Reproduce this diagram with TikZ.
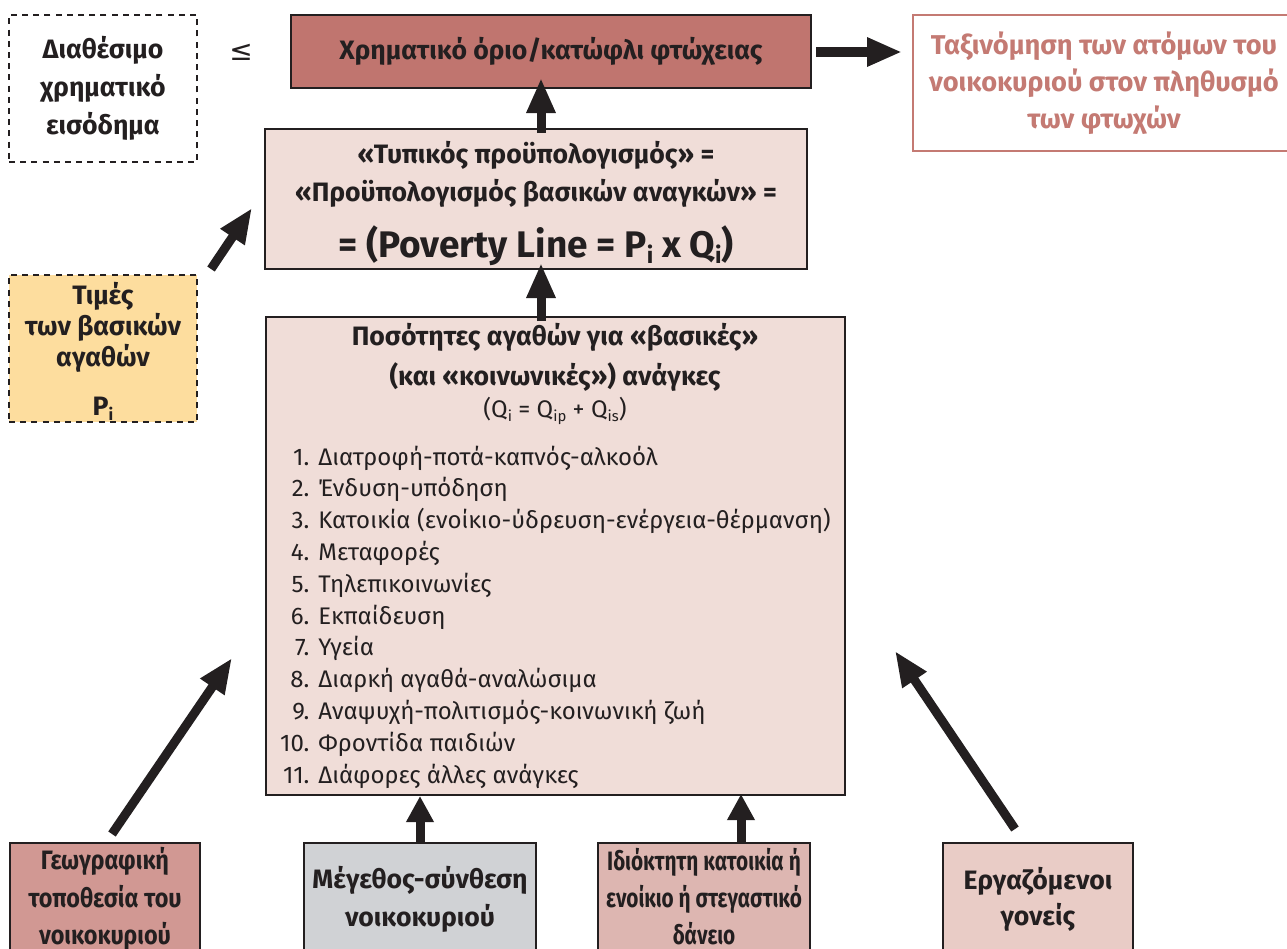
\documentclass[tikz,border=0pt]{standalone}
\usepackage{fontspec}
\setmainfont{Fira Sans}
\newfontfamily\symfont{DejaVu Sans}
\newfontfamily\condA[FakeStretch=0.88]{Fira Sans}
\newfontfamily\condB[FakeStretch=0.78]{Fira Sans}
\usetikzlibrary{arrows.meta,calc}
\definecolor{dark}{HTML}{231F20}
\definecolor{povc}{HTML}{C0756F}
\definecolor{clsc}{HTML}{C47A73}
\definecolor{budc}{HTML}{F0DDD8}
\definecolor{pric}{HTML}{FDDD9E}
\definecolor{geoc}{HTML}{D19893}
\definecolor{sizec}{HTML}{D0D2D5}
\definecolor{ownc}{HTML}{DDB6B1}
\definecolor{workc}{HTML}{E9CCC6}
\newcommand{\lowidx}[1]{\raisebox{-0.35ex}{\scalebox{0.62}{#1}}}
\newcommand{\numit}[1]{\makebox[17pt][r]{#1}\hspace{4.5pt}}
\begin{document}
\begin{tikzpicture}[x=0.5pt,y=-0.5pt,
  box/.style={draw=dark,line width=1pt,rectangle,inner sep=0pt,align=center,
    font=\bfseries\fontsize{13.3}{19}\selectfont,text=dark},
  dbox/.style={box,dash pattern=on 3pt off 2.6pt},
  arr/.style={draw=dark,line width=4.5pt,-{Triangle[width=13.5pt,length=17.5pt]}},
  sarr/.style={draw=dark,line width=4.5pt,-{Triangle[width=13pt,length=13pt]}},
]
\clip (0,0) rectangle (1287,949);
\fill[white] (0,0) rectangle (1287,949);

\node[dbox,minimum width=94pt,minimum height=73.5pt] (inc) at (103,88.5) {Διαθέσιμο\\χρηματικό\\εισόδημα};
\node[font=\symfont\fontsize{14}{14}\selectfont,text=dark,inner sep=0pt] (le) at (241,52) {≤};
\node[box,fill=povc,minimum width=260pt,minimum height=36.5pt] (pov) at (551,51.5) {Χρηματικό όριο/κατώφλι φτώχειας};
\node[box,draw=clsc,text=clsc,font=\bfseries\fontsize{13.6}{18.5}\selectfont,minimum width=191pt,minimum height=68pt] (cls) at (1104,83) {Ταξινόμηση των ατόμων του\\νοικοκυριού στον πληθυσμό\\των φτωχών};

\node[box,fill=budc,minimum width=271pt,minimum height=70pt] (bud) at (536,199) {};
\node[align=center,text=dark,inner sep=0pt,font=\bfseries\fontsize{13.3}{19}\selectfont] (budt) at (536,203)
  {«Τυπικός προϋπολογισμός» =\\«Προϋπολογισμός βασικών αναγκών» =\\[9pt]{\fontsize{18.5}{20}\selectfont = (Poverty Line = P\lowidx{i} x Q\lowidx{i})}};

\node[dbox,fill=pric,font=\bfseries\fontsize{13.3}{15.5}\selectfont,minimum width=94pt,minimum height=73.5pt] (pri) at (103,348.5) {};
\node[align=center,text=dark,inner sep=0pt,font=\bfseries\fontsize{13.3}{15.5}\selectfont] (prit) at (103,351)
  {Τιμές\\των βασικών\\αγαθών\\[9pt]P\lowidx{i}};

\node[box,fill=budc,minimum width=289.5pt,minimum height=239pt] (qty) at (555.5,556) {};
\node[align=center,text=dark,inner sep=0pt,font=\bfseries\fontsize{13.3}{20}\selectfont] (qhead) at (555,374)
  {Ποσότητες αγαθών για «βασικές»\\(και «κοινωνικές») ανάγκες\\[-4pt]{\mdseries\fontsize{12}{14}\selectfont (Q\lowidx{i} = Q\lowidx{ip} + Q\lowidx{is})}};
\node[align=left,anchor=west,text=dark,inner sep=0pt,font=\fontsize{12}{15.9}\selectfont] (qlist) at (275,617)
  {\numit{1.}Διατροφή-ποτά-καπνός-αλκοόλ\\
   \numit{2.}Ένδυση-υπόδηση\\
   \numit{3.}Κατοικία (ενοίκιο-ύδρευση-ενέργεια-θέρμανση)\\
   \numit{4.}Μεταφορές\\
   \numit{5.}Τηλεπικοινωνίες\\
   \numit{6.}Εκπαίδευση\\
   \numit{7.}Υγεία\\
   \numit{8.}Διαρκή αγαθά-αναλώσιμα\\
   \numit{9.}Αναψυχή-πολιτισμός-κοινωνική ζωή\\
   \numit{10.}Φροντίδα παιδιών\\
   \numit{11.}Διάφορες άλλες ανάγκες};

\node[box,fill=geoc,font=\condA\bfseries\fontsize{13.3}{18.75}\selectfont,minimum width=95pt,minimum height=56pt] (geo) at (105,899) {Γεωγραφική\\τοποθεσία του\\νοικοκυριού};
\node[box,fill=sizec,font=\bfseries\fontsize{13.3}{19}\selectfont,minimum width=116pt,minimum height=56pt] (size) at (420,899) {Μέγεθος-σύνθεση\\νοικοκυριού};
\node[box,fill=ownc,minimum width=106pt,minimum height=56pt] (own) at (704,899) {};
\node[align=center,text=dark,inner sep=0pt,font=\condB\bfseries\fontsize{13.3}{18.5}\selectfont] (ownt) at (704,897) {Ιδιόκτητη κατοικία ή\\ενοίκιο ή στεγαστικό\\δάνειο};
\node[box,fill=workc,font=\bfseries\fontsize{13.3}{18}\selectfont,minimum width=95pt,minimum height=56pt] (work) at (1038,899) {Εργαζόμενοι\\γονείς};

\draw[arr] ($(bud.north)+(5,5)$) -- ($(pov.south)+(-10,-11)$);
\draw[arr] ($(qty.north)+(-14.5,5)$) -- ($(bud.south)+(5,-7)$);
\draw[arr,line width=5pt] ($(pov.east)+(4,0.5)$) -- ($(cls.west)+(-10,-31)$);
\draw[arr] ($(pri.north east)+(13,-5)$) -- ($(bud.south west)+(-12,-62)$);
\draw[arr] ($(geo.north)+(7,-8)$) -- ($(qty.south west)+(-33,-138)$);
\draw[arr] ($(work.north)+(-23,-13)$) -- ($(qty.south east)+(49,-145)$);
\draw[sarr] (size.north) -- (size.north |- qty.south);
\draw[sarr] ($(own.north)+(37,0)$) -- ($(own.north)+(37,-48)$);
\end{tikzpicture}
\end{document}
